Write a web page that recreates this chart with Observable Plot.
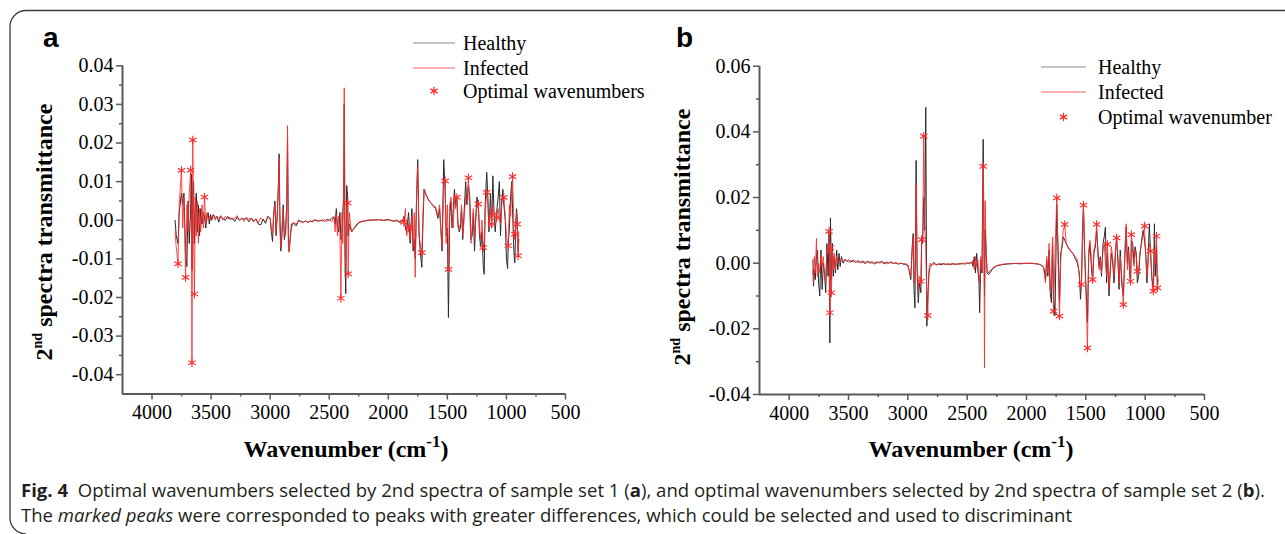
<!DOCTYPE html>
<html><head><meta charset="utf-8">
<script src="https://cdn.jsdelivr.net/npm/d3@7"></script>
<script src="https://cdn.jsdelivr.net/npm/@observablehq/plot@0.6"></script>
<style>
body{margin:0;background:#fff;}
#wrap{position:relative;width:1285px;height:534px;overflow:hidden;background:#fff;}
#wrap svg{position:absolute;}
</style></head><body><div id="wrap"></div>
<script>
// ---------- tick values ----------
const xTicks = [4000,3500,3000,2500,2000,1500,1000,500];
const xMinor = [3750,3250,2750,2250,1750,1250,750];
const aYTicks = [-0.04,-0.03,-0.02,-0.01,0,0.01,0.02,0.03,0.04];
const aYMinor = [-0.035,-0.025,-0.015,-0.005,0.005,0.015,0.025,0.035];
const bYTicks = [-0.04,-0.02,0,0.02,0.04,0.06];
const bYMinor = [-0.03,-0.01,0.01,0.03,0.05];

// ---------- labels ----------
const aLegend = ["Healthy","Infected","Optimal wavenumbers"];
const bLegend = ["Healthy","Infected","Optimal wavenumber"];

// ---------- panel a data ----------
const aWn = [
3805,3795,3780,3770,3751,3740,3730,3716,3705,3695,
3685,3673,3666,3662,3655,3648,3641,3633,3625,3617,
3608,3598,3588,3577,3565,3556,3545,3535,3525,3515,
3505,3495,3480,3465,3450,3435,3420,3400,3380,3360,
3340,3320,3300,3280,3260,3240,3220,3200,3180,3160,
3140,3120,3100,3080,3060,3040,3020,3000,2990,2980,
2970,2960,2950,2940,2930,2924,2918,2910,2900,2890,
2880,2870,2860,2853,2846,2840,2830,2820,2800,2780,
2760,2740,2720,2700,2680,2660,2640,2620,2600,2580,
2560,2540,2520,2500,2480,2460,2450,2440,2430,2420,
2410,2401,2392,2385,2378,2373,2366,2360,2352,2344,
2340,2330,2320,2310,2300,2280,2260,2240,2200,2160,
2120,2080,2040,2000,1960,1930,1900,1880,1868,1855,
1845,1828,1815,1800,1790,1780,1772,1760,1751,1740,
1730,1716,1706,1697,1680,1660,1640,1620,1600,1580,
1566,1555,1545,1531,1519,1510,1500,1491,1480,1470,
1460,1450,1440,1430,1420,1410,1400,1390,1380,1370,
1360,1345,1335,1322,1310,1300,1290,1280,1270,1260,
1250,1238,1228,1218,1207,1196,1188,1180,1167,1157,
1148,1135,1125,1115,1105,1095,1083,1070,1060,1050,
1040,1030,1022,1010,1000,990,985,975,965,955,
948,940,935,929,920,915,909,901,895];
const aHealthy = [
0.000,-0.004,-0.006,0.002,0.007,0.004,0.007,-0.008,-0.012,0.005,
-0.006,0.003,0.012,-0.013,0.008,0.010,-0.006,0.004,0.007,-0.003,
0.004,-0.004,0.003,-0.001,0.002,0.001,-0.002,0.001,0.002,-0.001,
0.0015,0.000,0.0015,0.0005,0.001,-0.0005,0.001,0.0005,0.000,0.001,
0.0002,0.0005,-0.0003,0.0008,0.000,0.0004,0.0003,0.0005,-0.0004,0.0006,
-0.0002,0.0003,-0.001,-0.0012,0.0003,-0.0008,0.001,0.0005,-0.003,-0.0055,
0.002,0.005,-0.004,0.001,0.010,0.0172,0.002,-0.008,-0.004,0.004,
-0.005,-0.003,0.004,0.021,-0.004,-0.008,-0.005,-0.001,-0.0008,-0.0015,
0.000,-0.0003,-0.0005,-0.0002,-0.0006,-0.0002,-0.0004,0.0001,-0.0001,-0.0002,
0.0001,-0.0003,0.0002,0.000,0.0005,0.0008,-0.001,0.003,-0.002,-0.003,
0.002,-0.005,-0.004,0.002,0.006,0.030,-0.012,-0.019,0.009,0.006,
-0.004,-0.001,-0.002,-0.003,-0.0025,-0.0018,-0.001,-0.0005,-0.0002,0.000,
0.0001,0.0001,0.000,0.0002,-0.0002,-0.0001,-0.0006,-0.0002,0.001,-0.002,
-0.003,0.002,-0.006,0.003,-0.008,-0.005,-0.010,0.006,0.0157,-0.003,
-0.008,-0.0122,0.000,0.0081,0.0066,0.0053,0.0045,0.0038,0.003,0.0005,
0.003,-0.002,-0.008,0.0157,0.008,-0.004,-0.002,-0.0252,0.001,0.005,
-0.002,0.003,0.008,0.004,0.006,-0.001,-0.003,-0.002,0.003,-0.005,
0.001,0.010,0.004,0.009,0.006,-0.005,-0.004,0.002,-0.008,0.001,
0.006,0.004,-0.004,-0.007,-0.003,-0.012,-0.014,0.004,0.0124,0.006,
-0.003,0.007,-0.002,0.0115,0.002,-0.003,0.002,0.006,0.010,-0.004,
0.005,0.008,0.004,0.000,-0.010,-0.0125,-0.006,-0.002,0.006,0.010,
0.003,-0.006,-0.009,-0.011,0.000,0.003,0.001,-0.008,-0.005];
const aInfected = [
-0.003,-0.007,-0.0113,0.004,0.0129,-0.002,0.006,-0.0148,0.004,-0.003,
0.007,0.013,-0.005,-0.0369,0.0208,-0.005,-0.0191,0.006,-0.004,0.005,
-0.006,0.003,-0.003,0.004,-0.002,0.006,-0.001,0.002,0.000,0.001,
0.000,0.001,0.0015,0.000,0.001,0.0005,0.0012,0.000,0.001,0.0003,
0.0008,0.0002,0.0005,0.0012,0.000,0.0006,-0.0003,0.0008,0.0002,0.0005,
-0.0005,0.0004,-0.0006,0.0006,0.000,-0.0004,0.0008,0.0005,-0.002,-0.004,
0.001,0.004,-0.003,0.002,0.008,0.016,-0.002,-0.007,-0.002,0.003,
-0.003,-0.004,0.002,0.0245,-0.006,-0.0083,-0.004,-0.002,-0.0005,-0.001,
-0.0002,-0.0004,-0.0006,-0.0002,-0.0005,-0.0003,-0.0001,0.0001,-0.0003,0.000,
-0.0002,0.0001,-0.0003,0.0002,-0.0004,0.001,-0.003,0.0015,-0.004,0.001,
-0.003,-0.0202,0.002,-0.006,0.010,0.0343,-0.008,-0.012,0.004,0.0045,
-0.0139,0.002,-0.001,-0.003,-0.0025,-0.0015,-0.0008,-0.0004,-0.0001,0.0001,
0.000,0.0002,-0.0001,0.0001,-0.0003,0.0001,-0.0004,0.000,-0.0005,0.003,
-0.004,-0.0019,-0.005,0.001,-0.007,0.002,-0.0148,0.008,0.014,-0.004,
-0.006,-0.0084,0.002,0.008,0.0065,0.0052,0.0044,0.0038,0.0035,0.001,
0.004,-0.003,-0.007,0.008,0.0102,-0.006,0.004,-0.0127,0.004,0.006,
0.000,-0.002,0.006,0.003,0.0059,-0.002,-0.002,-0.001,0.004,-0.004,
-0.0005,0.006,0.005,0.011,0.002,-0.006,-0.002,0.003,-0.004,0.000,
0.003,0.0042,-0.002,-0.005,0.000,-0.0071,-0.006,0.002,0.0072,0.004,
-0.002,0.003,-0.001,0.004,0.001,0.002,0.0007,0.003,0.000,-0.001,
0.004,0.006,0.0059,0.001,-0.004,-0.006,-0.0066,0.004,0.001,0.008,
0.0113,0.002,-0.005,-0.0036,-0.002,0.002,-0.001,-0.0092,-0.003];
const aMarkWn = [3780,3751,3716,3673,3662,3655,3641,3556,2401,2344,2340,1868,1828,1716,1519,1491,1420,1322,1238,1196,1167,1125,1083,1022,985,948,929,909,901];
const aMarkVal = [-0.0113,0.0129,-0.0148,0.013,-0.0369,0.0208,-0.0191,0.006,-0.0202,0.0045,-0.0139,-0.0005,-0.0019,-0.0084,0.0102,-0.0127,0.0059,0.011,0.0042,-0.0071,0.0072,-0.001,0.0007,0.0059,-0.0066,0.0113,-0.0036,-0.001,-0.0092];

// ---------- panel b data ----------
const bWn = [
3800,3795,3788,3780,3770,3762,3752,3742,3732,3722,
3712,3702,3692,3682,3672,3664,3657,3652,3644,3636,
3628,3620,3610,3600,3590,3580,3570,3560,3545,3530,
3515,3500,3480,3460,3440,3420,3400,3380,3360,3340,
3320,3300,3280,3260,3240,3220,3200,3180,3160,3140,
3120,3100,3080,3060,3040,3020,3000,2990,2975,2965,
2955,2948,2940,2930,2922,2912,2903,2890,2883,2875,
2866,2858,2849,2840,2832,2822,2812,2800,2780,2760,
2740,2720,2700,2680,2660,2640,2620,2600,2580,2560,
2540,2520,2500,2480,2460,2450,2440,2430,2420,2410,
2400,2395,2385,2375,2365,2358,2354,2348,2340,2332,
2320,2300,2280,2250,2200,2150,2100,2050,2000,1950,
1900,1880,1860,1850,1840,1830,1820,1810,1800,1790,
1780,1772,1760,1745,1735,1722,1712,1700,1690,1678,
1665,1650,1630,1610,1590,1570,1555,1545,1537,1528,
1520,1510,1500,1486,1476,1465,1455,1443,1432,1420,
1409,1398,1388,1378,1368,1355,1345,1335,1325,1318,
1305,1295,1285,1275,1262,1250,1241,1230,1220,1210,
1198,1184,1172,1160,1150,1140,1130,1123,1116,1105,
1095,1085,1075,1066,1055,1045,1030,1018,1005,995,
985,975,965,955,945,938,931,922,915,904,
897,892];
const bHealthy = [
0.001,-0.007,-0.002,-0.005,0.002,0.004,-0.006,-0.010,0.004,-0.008,
0.000,-0.003,-0.009,0.006,-0.004,0.009,-0.0243,0.0138,-0.005,0.006,
-0.004,0.002,-0.003,0.004,-0.002,0.003,-0.001,0.002,0.000,0.0012,
0.0005,0.001,0.0003,0.0009,0.0002,0.0008,0.0001,0.0007,-0.0002,0.0006,
0.000,0.0005,-0.0003,0.0004,0.0001,0.0006,-0.0002,0.0003,0.000,0.0004,
-0.0001,0.0001,-0.0003,0.000,-0.0002,-0.0004,-0.0008,-0.002,-0.005,0.004,
0.009,-0.008,-0.0136,0.0313,-0.002,-0.012,-0.006,-0.009,0.008,0.006,
0.020,0.010,0.0475,-0.0192,-0.010,-0.003,-0.001,-0.0005,0.0003,-0.0006,
-0.0002,-0.0005,-0.0001,-0.0004,-0.0002,-0.0005,-0.0001,-0.0004,-0.0002,-0.0003,
0.000,-0.0003,0.0001,-0.0002,0.0004,-0.001,0.002,-0.003,0.003,-0.002,
-0.006,-0.0151,0.001,-0.003,0.0377,0.005,-0.010,0.010,0.004,-0.003,
-0.0035,-0.0025,-0.0015,-0.0008,-0.0004,-0.0002,-0.0001,-0.0002,0.000,-0.0001,
-0.0003,-0.0005,-0.001,-0.002,-0.005,0.001,-0.004,0.004,-0.009,-0.012,
0.006,-0.010,-0.016,0.018,0.006,-0.012,0.003,0.005,0.008,0.007,
0.006,0.0048,0.0038,0.003,0.0015,0.000,-0.003,-0.011,-0.006,0.010,
0.0175,0.004,-0.006,-0.018,0.002,0.006,0.000,-0.006,0.003,0.005,
0.010,0.004,-0.001,0.002,-0.004,0.006,0.008,0.011,-0.006,0.003,
-0.010,-0.003,0.003,0.001,-0.006,0.003,0.008,0.001,-0.008,0.004,
-0.006,-0.010,0.001,0.011,0.000,0.005,-0.004,-0.006,0.007,0.006,
0.000,0.005,0.003,-0.006,-0.004,0.002,0.007,0.010,0.007,0.003,
-0.006,0.002,0.012,0.004,-0.004,-0.006,-0.008,0.012,-0.004,0.005,
-0.008,-0.005];
const bInfected = [
-0.002,-0.006,0.002,-0.003,0.0075,-0.004,0.000,-0.003,0.003,-0.001,
0.002,-0.004,-0.006,0.004,0.003,0.0097,-0.0151,0.0047,-0.009,0.004,
-0.002,0.003,-0.002,0.002,0.000,0.001,0.0008,0.0015,0.0005,0.001,
0.0008,0.0003,0.0009,0.0004,0.0007,0.0002,0.0006,0.0001,0.0005,0.0002,
0.0004,-0.0001,0.0003,0.000,0.0004,0.0001,0.0003,-0.0002,0.0002,0.0001,
-0.0001,0.0002,-0.0002,0.000,-0.0003,-0.0001,-0.0005,-0.002,-0.004,0.002,
0.008,-0.006,-0.003,0.024,0.002,-0.008,-0.004,-0.0055,0.0072,0.007,
0.0387,0.012,0.005,-0.012,-0.016,-0.002,0.000,-0.0008,-0.0002,-0.0004,
-0.0003,-0.0001,-0.0004,-0.0002,-0.0005,-0.0001,-0.0003,-0.0002,-0.0004,0.000,
-0.0003,0.0001,-0.0002,0.0002,0.000,0.001,-0.002,0.002,-0.001,0.001,
-0.004,-0.006,0.002,-0.002,0.0295,0.008,-0.0319,0.019,0.002,-0.002,
-0.003,-0.002,-0.0013,-0.0007,-0.0003,-0.0002,-0.0001,0.000,-0.0001,0.000,
-0.0002,-0.0006,-0.001,-0.003,-0.006,0.002,-0.003,0.006,-0.008,-0.003,
0.008,-0.0146,0.003,0.0199,0.002,-0.0161,0.001,0.006,0.010,0.0118,
0.006,0.005,0.004,0.003,0.002,0.001,-0.004,-0.007,-0.0065,0.006,
0.0177,0.002,-0.008,-0.0258,0.004,0.007,0.002,-0.005,0.004,0.006,
0.0118,0.002,-0.002,0.001,-0.003,0.004,0.006,0.000,-0.004,0.0057,
-0.008,-0.002,0.005,0.002,-0.004,0.004,0.0077,0.002,-0.006,0.002,
-0.004,-0.0126,0.003,0.012,-0.002,0.004,-0.003,-0.0055,0.0087,0.003,
-0.001,0.004,0.002,-0.0024,-0.0026,0.003,0.006,0.009,0.0113,0.002,
-0.004,0.000,0.006,0.0037,-0.003,-0.008,-0.0085,0.004,0.000,0.0082,
-0.0075,-0.004];
const bMarkWn = [3664,3657,3652,3644,2890,2883,2866,2832,2365,1772,1745,1722,1678,1537,1520,1486,1443,1409,1318,1241,1184,1123,1116,1066,1005,955,931,904,897];
const bMarkVal = [0.0097,-0.0151,0.0047,-0.009,-0.0055,0.0072,0.0387,-0.016,0.0295,-0.0146,0.0199,-0.0161,0.0118,-0.0065,0.0177,-0.0258,-0.005,0.0118,0.0057,0.0077,-0.0126,-0.0055,0.0087,-0.0024,0.0113,0.0037,-0.0085,0.0082,-0.0075];

// ---------- drawing ----------
const serif = "'Liberation Serif','Times New Roman',serif";
const axisCol = "#5a5a5a";
const healthyCol = "#2a2a2a";
const infectedCol = "#ff2a2a";
const wrap = document.getElementById("wrap");

function panel(cfg) {
  const rows = cfg.wn.map((w, i) => ({wn: w, h: cfg.healthy[i], inf: cfg.infected[i]}));
  const stars = cfg.markWn.map((w, i) => ({wn: w, v: cfg.markVal[i]}));
  const svg = Plot.plot({
    width: cfg.width, height: 460,
    marginLeft: cfg.ml, marginRight: cfg.mr, marginTop: cfg.mt, marginBottom: cfg.mb,
    style: {fontFamily: serif, fontSize: "20px", color: "#000", background: "transparent", overflow: "visible"},
    x: {domain: [4250, 500]},
    y: {domain: cfg.yDomain},
    marks: [
      Plot.line(rows, {x: "wn", y: "h", stroke: healthyCol, strokeWidth: 1}),
      Plot.line(rows, {x: "wn", y: "inf", stroke: infectedCol, strokeWidth: 1, strokeOpacity: 0.85}),
      Plot.dot(stars, {x: "wn", y: "v", symbol: "asterisk", r: 4, stroke: infectedCol, strokeWidth: 1.1}),
      Plot.axisX(xTicks, {tickSize: 6, tickPadding: 5, stroke: axisCol, strokeWidth: 1.5, fontSize: 20, tickFormat: d => String(d), label: null}),
      Plot.axisX(xMinor, {tickSize: 3, stroke: axisCol, strokeWidth: 1.5, tickFormat: () => "", label: null}),
      Plot.axisY(cfg.yTicks, {tickSize: 6, tickPadding: 3, stroke: axisCol, strokeWidth: 1.5, fontSize: 20, tickFormat: d => d.toFixed(2), label: null}),
      Plot.axisY(cfg.yMinor, {tickSize: 3, stroke: axisCol, strokeWidth: 1.5, tickFormat: () => "", label: null}),
      Plot.ruleX([4250], {stroke: axisCol, strokeWidth: 2}),
      Plot.ruleY([cfg.yDomain[0]], {stroke: axisCol, strokeWidth: 2})
    ]
  });
  svg.style.left = cfg.left + "px";
  svg.style.top = "0px";
  wrap.appendChild(svg);
  const g = d3.select(svg);

  // panel letter
  g.append("text").attr("x", cfg.letterX).attr("y", 47).attr("text-anchor", "start")
    .attr("font-family", "'Liberation Sans',Arial,sans-serif").attr("font-weight", "bold")
    .attr("font-size", 28).attr("fill", "#000").text(cfg.letter);

  // x title
  const xt = g.append("text").attr("x", cfg.xTitleX).attr("y", 457).attr("text-anchor", "middle")
    .attr("font-family", serif).attr("font-weight", "bold").attr("font-size", 24).attr("fill", "#000");
  xt.append("tspan").text("Wavenumber (cm");
  xt.append("tspan").attr("dy", -10).attr("font-size", 17).text("-1");
  xt.append("tspan").attr("dy", 10).text(")");

  // y title
  const yt = g.append("text").attr("transform", `translate(${cfg.yTitleX},${cfg.yTitleY}) rotate(-90)`)
    .attr("text-anchor", "middle").attr("font-family", serif).attr("font-weight", "bold")
    .attr("font-size", 24).attr("fill", "#000");
  yt.append("tspan").text("2");
  yt.append("tspan").attr("dy", -10).attr("font-size", 14).text("nd");
  yt.append("tspan").attr("dy", 10).text(" spectra transmittance");

  // legend
  const L = cfg.legend;
  const lg = g.append("g").attr("font-family", serif).attr("font-size", 20).attr("fill", "#000")
    .attr("text-anchor", "start");
  lg.append("line").attr("x1", L.x1).attr("x2", L.x2).attr("y1", L.ys[0]).attr("y2", L.ys[0])
    .attr("stroke", "#8c8c8c").attr("stroke-width", 1.2);
  lg.append("line").attr("x1", L.x1).attr("x2", L.x2).attr("y1", L.ys[1]).attr("y2", L.ys[1])
    .attr("stroke", "#ff6060").attr("stroke-width", 1.2);
  lg.append("path").attr("d", d3.symbol(d3.symbolAsterisk, 50)())
    .attr("transform", `translate(${(L.x1 + L.x2) / 2},${L.ys[2]})`)
    .attr("stroke", infectedCol).attr("stroke-width", 1.2).attr("fill", "none");
  cfg.legendText.forEach((t, i) => {
    lg.append("text").attr("x", L.tx).attr("y", L.ys[i]).attr("dy", "0.35em").text(t);
  });
}

panel({
  wn: aWn, healthy: aHealthy, infected: aInfected, markWn: aMarkWn, markVal: aMarkVal,
  yDomain: [-0.045, 0.04], yTicks: aYTicks, yMinor: aYMinor,
  left: 0, width: 640, ml: 122, mr: 75, mt: 65.3, mb: 66.5,
  letter: "a", letterX: 43, xTitleX: 346, yTitleX: 52, yTitleY: 232,
  legend: {x1: 413, x2: 455, ys: [43, 68, 91], tx: 463}, legendText: aLegend
});
panel({
  wn: bWn, healthy: bHealthy, infected: bInfected, markWn: bMarkWn, markVal: bMarkVal,
  yDomain: [-0.04, 0.06], yTicks: bYTicks, yMinor: bYMinor,
  left: 640, width: 645, ml: 119, mr: 81, mt: 65.7, mb: 66,
  letter: "b", letterX: 36, xTitleX: 331, yTitleX: 50, yTitleY: 237,
  legend: {x1: 401, x2: 446, ys: [67, 92, 117], tx: 458}, legendText: bLegend
});

// ---------- frame + caption ----------
const ov = d3.select(wrap).append("svg").attr("width", 1285).attr("height", 534)
  .style("left", "0px").style("top", "0px");
ov.append("path").attr("d", "M1285,10.5 H26 A16,16 0 0 0 10,26.5 V518 A16,16 0 0 0 26,534")
  .attr("fill", "none").attr("stroke", "#3a3a3a").attr("stroke-width", 1.3);

const capFont = "'Open Sans','Noto Sans',sans-serif";
const c1 = ov.append("text").attr("font-family", capFont).attr("font-size", 17.5).attr("fill", "#231f20")
  .style("white-space", "pre");
c1.append("tspan").attr("font-weight", "bold").text("Fig. 4");
c1.append("tspan").text("  Optimal wavenumbers selected by 2nd spectra of sample set 1 (");
c1.append("tspan").attr("font-weight", "bold").text("a");
c1.append("tspan").text("), and optimal wavenumbers selected by 2nd spectra of sample set 2 (");
c1.append("tspan").attr("font-weight", "bold").text("b");
c1.append("tspan").text(").");
const c2 = ov.append("text").attr("font-family", capFont).attr("font-size", 17.5).attr("fill", "#231f20")
  .style("white-space", "pre");
c2.append("tspan").text("The ");
c2.append("tspan").attr("font-style", "italic").text("marked peaks");
c2.append("tspan").text(" were corresponded to peaks with greater differences, which could be selected and used to discriminant");
const L1 = c1.node().getComputedTextLength();
const s = L1 > 0 ? 1245 / L1 : 1;
c1.attr("transform", `translate(21,497) scale(${s},1)`);
c2.attr("transform", `translate(21,522) scale(${s},1)`);
</script>
</body></html>
